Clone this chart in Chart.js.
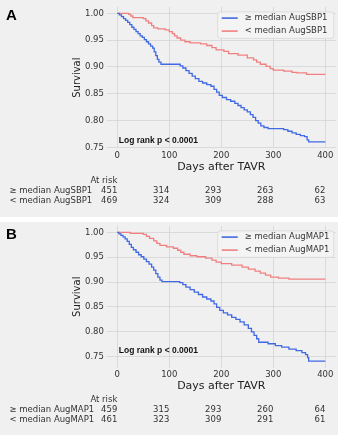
<!DOCTYPE html>
<html>
<head>
<meta charset="utf-8">
<script src="https://cdn.jsdelivr.net/npm/chart.js@4.4.1/dist/chart.umd.min.js"></script>
<style>
  html, body { margin: 0; padding: 0; background: #fff; }
  .panel { position: absolute; left: 0; width: 338px; background: #f0f0f0; }
  #panelA { top: 0; height: 217px; }
  #panelB { top: 222px; height: 213px; }
</style>
</head>
<body>
<div class="panel" id="panelA"><canvas id="chartA"></canvas></div>
<div class="panel" id="panelB"><canvas id="chartB"></canvas></div>
<script>
// axis ticks
const xTicks = [0, 100, 200, 300, 400];
const yTicks = [0.75, 0.80, 0.85, 0.90, 0.95, 1.00];

// group labels
const labelsSBP = ["≥ median AugSBP1", "< median AugSBP1"];
const labelsMAP = ["≥ median AugMAP1", "< median AugMAP1"];

// numbers at risk at 0, 100, 200, 300, 400 days
const riskHighSBP = [451, 314, 293, 263, 62];
const riskLowSBP = [469, 324, 309, 288, 63];
const riskHighMAP = [459, 315, 293, 260, 64];
const riskLowMAP = [461, 323, 309, 291, 61];

// Kaplan-Meier steps (days, survival)
const highSBPDays = [0, 4, 8, 12, 16, 20, 24, 28, 32, 36, 40, 44, 48, 52, 56, 60, 64, 68, 71, 74, 77, 80, 84, 121, 126, 132, 138, 144, 150, 157, 164, 172, 180, 186, 191, 196, 202, 210, 218, 226, 232, 238, 244, 250, 256, 261, 266, 271, 276, 282, 290, 320, 328, 336, 344, 352, 360, 365, 368, 400];
const highSBPSurv = [1.0, 0.997, 0.994, 0.990, 0.987, 0.983, 0.979, 0.974, 0.970, 0.966, 0.962, 0.958, 0.955, 0.951, 0.947, 0.943, 0.939, 0.935, 0.928, 0.921, 0.914, 0.909, 0.905, 0.902, 0.898, 0.893, 0.888, 0.883, 0.878, 0.873, 0.870, 0.867, 0.864, 0.858, 0.853, 0.847, 0.843, 0.839, 0.836, 0.832, 0.828, 0.824, 0.820, 0.816, 0.811, 0.806, 0.800, 0.795, 0.790, 0.787, 0.785, 0.783, 0.780, 0.777, 0.774, 0.772, 0.770, 0.764, 0.760, 0.760];

const lowSBPDays = [0, 22, 26, 30, 50, 55, 60, 66, 70, 78, 92, 100, 106, 110, 115, 122, 130, 140, 160, 172, 182, 190, 205, 214, 232, 250, 262, 268, 275, 286, 294, 300, 320, 336, 345, 364, 400];
const lowSBPSurv = [1.0, 0.998, 0.995, 0.992, 0.990, 0.986, 0.982, 0.977, 0.973, 0.971, 0.969, 0.966, 0.962, 0.958, 0.954, 0.950, 0.947, 0.945, 0.943, 0.940, 0.936, 0.932, 0.929, 0.925, 0.922, 0.917, 0.913, 0.909, 0.905, 0.901, 0.897, 0.894, 0.892, 0.890, 0.889, 0.886, 0.886];

const highMAPDays = [0, 3, 7, 11, 15, 19, 23, 27, 31, 36, 41, 46, 51, 56, 61, 66, 70, 74, 78, 82, 86, 120, 126, 132, 140, 148, 156, 164, 172, 180, 186, 191, 197, 204, 212, 220, 228, 236, 244, 252, 258, 263, 268, 272, 290, 304, 316, 330, 344, 355, 362, 366, 368, 400];
const highMAPSurv = [1.0, 0.997, 0.994, 0.991, 0.987, 0.982, 0.976, 0.970, 0.965, 0.960, 0.955, 0.951, 0.946, 0.941, 0.936, 0.930, 0.924, 0.917, 0.910, 0.904, 0.901, 0.899, 0.895, 0.890, 0.885, 0.880, 0.875, 0.870, 0.866, 0.862, 0.856, 0.849, 0.843, 0.838, 0.834, 0.829, 0.825, 0.820, 0.814, 0.807, 0.800, 0.793, 0.786, 0.779, 0.776, 0.772, 0.769, 0.765, 0.762, 0.758, 0.754, 0.748, 0.741, 0.741];

const lowMAPDays = [0, 25, 50, 56, 62, 70, 76, 82, 95, 108, 116, 122, 128, 140, 153, 170, 182, 190, 200, 220, 240, 252, 265, 275, 285, 295, 310, 330, 400];
const lowMAPSurv = [1.0, 0.998, 0.996, 0.992, 0.988, 0.983, 0.978, 0.974, 0.971, 0.968, 0.964, 0.960, 0.956, 0.953, 0.951, 0.948, 0.944, 0.940, 0.937, 0.934, 0.930, 0.926, 0.922, 0.918, 0.914, 0.910, 0.908, 0.906, 0.906];

const BLUE = "#4169e1";
const RED = "#f08080";
const TEXT = "#333333";
const FONT = "'DejaVu Sans', sans-serif";

function toPoints(days, surv) {
  return days.map((d, i) => ({ x: d, y: surv[i] }));
}

// legend, at-risk table, log rank note and panel letter
const extrasPlugin = {
  id: "extras",
  afterDraw(chart, args, opts) {
    const ctx = chart.ctx;
    const a = chart.chartArea;
    const xs = chart.scales.x;
    const ys = chart.scales.y;
    ctx.save();

    // panel letter
    ctx.fillStyle = "#000";
    ctx.font = "bold 15px 'Liberation Sans', Arial, sans-serif";
    ctx.textAlign = "left";
    ctx.textBaseline = "middle";
    ctx.fillText(opts.letter, 6, a.top + 9);

    // log rank text
    ctx.fillStyle = "#111";
    ctx.font = "bold 8.5px 'Liberation Sans', Arial, sans-serif";
    ctx.fillText("Log rank p < 0.0001", xs.getPixelForValue(3), ys.getPixelForValue(0.763));

    // legend box
    const bw = 116, bh = 26.5;
    const bx = a.right - 118, by = a.top + 5;
    ctx.beginPath();
    ctx.roundRect(bx, by, bw, bh, 2.5);
    ctx.fillStyle = "rgba(244,244,244,0.85)";
    ctx.fill();
    ctx.strokeStyle = "#d6d6d6";
    ctx.lineWidth = 0.8;
    ctx.stroke();
    ctx.font = "8.5px " + FONT;
    chart.data.datasets.forEach((ds, i) => {
      const ly = by + 6.2 + i * 13;
      ctx.beginPath();
      ctx.moveTo(bx + 4, ly);
      ctx.lineTo(bx + 20, ly);
      ctx.strokeStyle = ds.borderColor;
      ctx.lineWidth = 1.6;
      ctx.stroke();
      ctx.fillStyle = TEXT;
      ctx.fillText(ds.label, bx + 27, ly);
    });

    // numbers at risk
    ctx.fillStyle = TEXT;
    ctx.font = "8.5px " + FONT;
    ctx.textAlign = "right";
    ctx.fillText("At risk", xs.getPixelForValue(0), a.bottom + 32.5);
    opts.risk.forEach((row, r) => {
      const ry = a.bottom + 42.2 + r * 10.2;
      ctx.textAlign = "left";
      ctx.fillText(chart.data.datasets[r].label, 9.5, ry);
      ctx.textAlign = "right";
      row.forEach((n, i) => ctx.fillText(String(n), xs.getPixelForValue(xTicks[i]), ry));
    });
    ctx.restore();
  }
};

function makeChart(id, labels, high, low, risk, letter, yMin, yMax, pad) {
  return new Chart(document.getElementById(id), {
    type: "line",
    data: {
      datasets: [
        { label: labels[0], data: high, borderColor: BLUE, borderWidth: 1.3, pointRadius: 0, stepped: "before", fill: false },
        { label: labels[1], data: low, borderColor: RED, borderWidth: 1.3, pointRadius: 0, stepped: "before", fill: false }
      ]
    },
    options: {
      responsive: true,
      maintainAspectRatio: false,
      animation: false,
      events: [],
      layout: { padding: pad },
      scales: {
        x: {
          type: "linear",
          min: -20,
          max: 420,
          afterBuildTicks: s => { s.ticks = xTicks.map(v => ({ value: v })); },
          afterFit: s => { s.height = 29.5; s.paddingLeft = 0; s.paddingRight = 0; },
          ticks: { color: TEXT, font: { family: FONT, size: 8.5 }, padding: 2, maxRotation: 0 },
          grid: { color: "#d4d4d4", lineWidth: 0.8, drawTicks: false },
          border: { display: false },
          title: { display: true, text: "Days after TAVR", color: "#222", font: { family: FONT, size: 11 }, padding: { top: 4, bottom: 4 } }
        },
        y: {
          type: "linear",
          min: yMin,
          max: yMax,
          afterBuildTicks: s => { s.ticks = yTicks.map(v => ({ value: v })); },
          afterFit: s => { s.width = 106.9 - pad.left; s.paddingTop = 0; s.paddingBottom = 0; },
          ticks: { color: TEXT, font: { family: FONT, size: 8.5 }, padding: 3, callback: v => v.toFixed(2) },
          grid: { color: "#d4d4d4", lineWidth: 0.8, drawTicks: false },
          border: { display: false },
          title: { display: true, text: "Survival", color: "#222", font: { family: FONT, size: 10 }, padding: { top: 4, bottom: 4 } }
        }
      },
      plugins: {
        legend: { display: false },
        tooltip: { enabled: false },
        extras: { letter, risk }
      }
    },
    plugins: [extrasPlugin]
  });
}

makeChart("chartA", labelsSBP,
  toPoints(highSBPDays, highSBPSurv), toPoints(lowSBPDays, lowSBPSurv),
  [riskHighSBP, riskLowSBP], "A", 0.748, 1.012,
  { left: 67, right: 2.3, top: 6.9, bottom: 39.1 });

makeChart("chartB", labelsMAP,
  toPoints(highMAPDays, highMAPSurv), toPoints(lowMAPDays, lowMAPSurv),
  [riskHighMAP, riskLowMAP], "B", 0.728, 1.013,
  { left: 67, right: 2.3, top: 3.9, bottom: 37.9 });
</script>
</body>
</html>
